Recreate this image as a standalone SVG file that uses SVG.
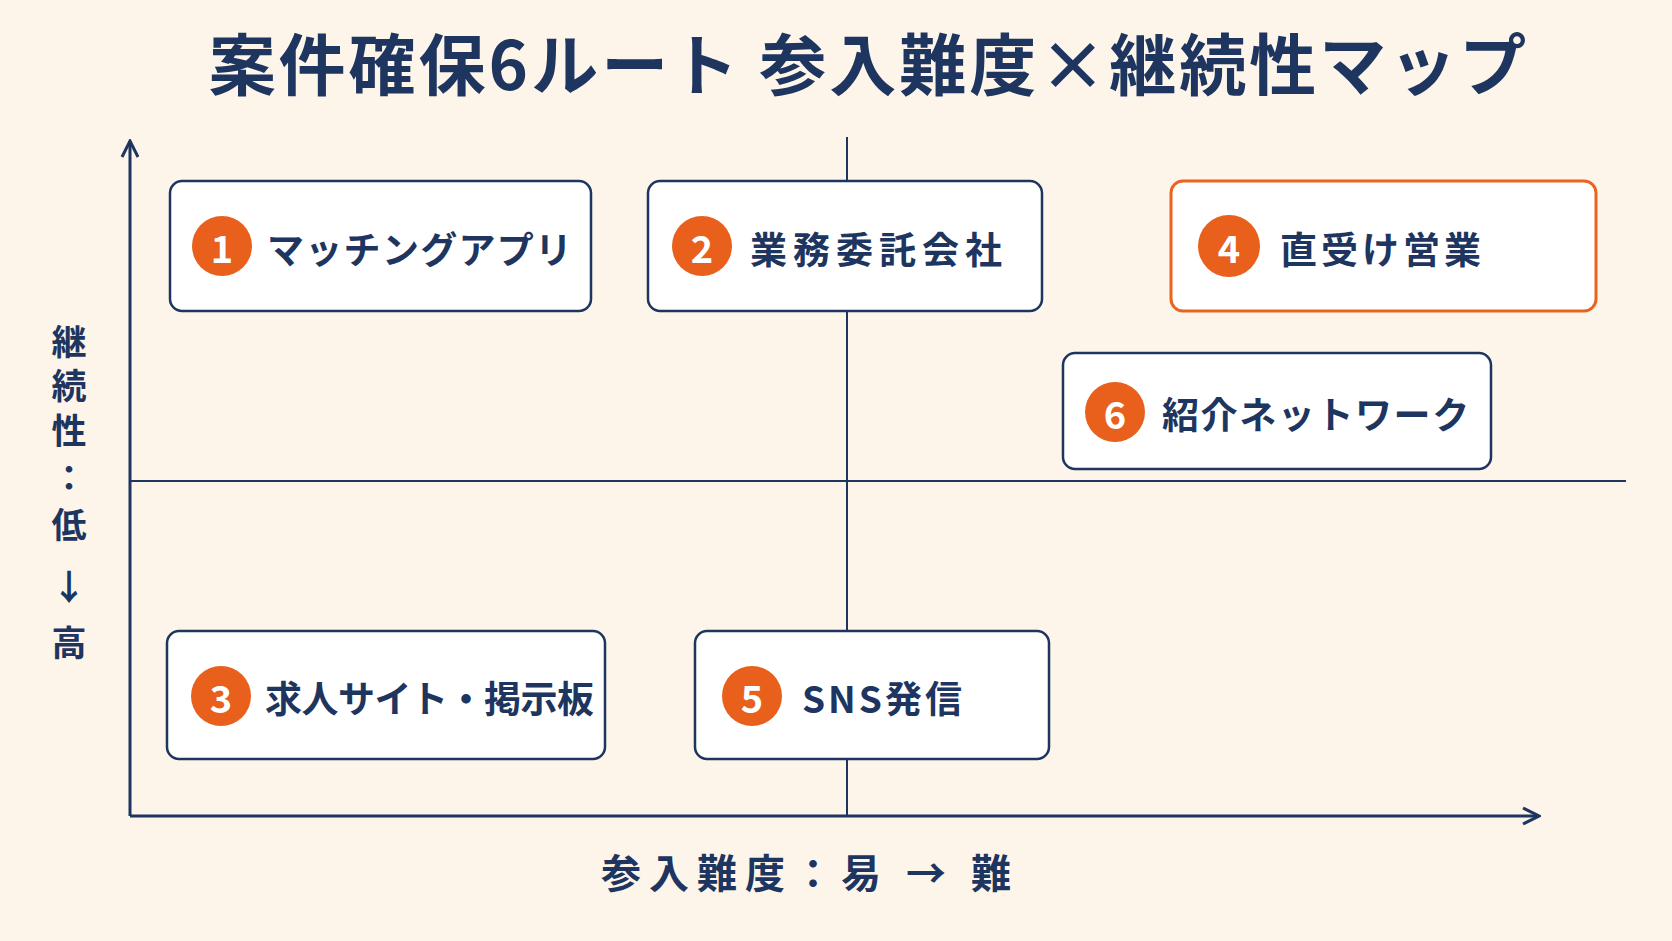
<svg xmlns="http://www.w3.org/2000/svg" width="1672" height="941" viewBox="0 0 1672 941">
<defs>
<style>
text{font-family:"Noto Sans CJK JP","Noto Sans",sans-serif;font-weight:700;fill:#1e3560}
.box{fill:#fff;stroke:#1e3560;stroke-width:2.5}
.hot{fill:#fff;stroke:#e8641f;stroke-width:3}
.num{fill:#e8601c}
.nt{fill:#fff;font-size:38px;text-anchor:middle;dominant-baseline:central}
.lb{font-size:37px;dominant-baseline:central}
.ax{stroke:#1e3560;stroke-width:3;fill:none}
.ln{stroke:#1e3560;stroke-width:2;fill:none}
.yl{font-size:35px;text-anchor:middle;dominant-baseline:central}
</style>
<marker id="ah" viewBox="0 0 20 20" refX="18" refY="10" markerWidth="20" markerHeight="20" markerUnits="userSpaceOnUse" orient="auto"><path d="M2,2 L18,10 L2,18" fill="none" stroke="#1e3560" stroke-width="3"/></marker>
</defs>
<rect width="1672" height="941" fill="#fdf5ea"/>
<text x="869" y="60" font-size="67" letter-spacing="3" text-anchor="middle" dominant-baseline="central">案件確保6ルート 参入難度×継続性マップ</text>
<g id="connectors">
<line class="ln" x1="847" y1="137" x2="847" y2="816"/>
<line class="ln" x1="130" y1="481" x2="1626" y2="481"/>
<line class="ax" x1="130" y1="816" x2="130" y2="141" marker-end="url(#ah)"/>
<line class="ax" x1="130" y1="816" x2="1539" y2="816" marker-end="url(#ah)"/>
</g>
<g id="n1"><rect class="box" x="170" y="181" width="421" height="130" rx="12"/><circle class="num" cx="222" cy="246" r="30"/><text class="nt" x="222" y="246">1</text><text class="lb" x="267" y="248" letter-spacing="1.3">マッチングアプリ</text></g>
<g id="n2"><rect class="box" x="648" y="181" width="394" height="130" rx="12"/><circle class="num" cx="702" cy="246" r="30"/><text class="nt" x="702" y="246">2</text><text class="lb" x="750" y="248" letter-spacing="6">業務委託会社</text></g>
<g id="n4"><rect class="hot" x="1171" y="181" width="425" height="130" rx="12"/><circle class="num" cx="1229" cy="246" r="31"/><text class="nt" x="1229" y="246">4</text><text class="lb" x="1280" y="248" font-size="56" letter-spacing="4">直受け営業</text></g>
<g id="n6"><rect class="box" x="1063" y="353" width="428" height="116" rx="12"/><circle class="num" cx="1115" cy="412" r="30"/><text class="nt" x="1115" y="412">6</text><text class="lb" x="1162" y="413" letter-spacing="1.6">紹介ネットワーク</text></g>
<g id="n3"><rect class="box" x="167" y="631" width="438" height="128" rx="12"/><circle class="num" cx="221" cy="696" r="30"/><text class="nt" x="221" y="696">3</text><text class="lb" x="265" y="697" font-size="36" letter-spacing="-0.5">求人サイト・掲示板</text></g>
<g id="n5"><rect class="box" x="695" y="631" width="354" height="128" rx="12"/><circle class="num" cx="752" cy="696" r="30"/><text class="nt" x="752" y="696">5</text><text class="lb" x="802" y="697" letter-spacing="3">SNS発信</text></g>
<g id="ylabel">
<text class="yl" x="69" y="339">継</text><text class="yl" x="69" y="383">続</text><text class="yl" x="69" y="428">性</text><text class="yl" x="69" y="475">：</text><text class="yl" x="69" y="522">低</text><text class="yl" x="69" y="584">↓</text><text class="yl" x="69" y="640">高</text>
</g>
<text x="810" y="871" font-size="40" letter-spacing="8" text-anchor="middle" dominant-baseline="central">参入難度：易 → 難</text>
</svg>
